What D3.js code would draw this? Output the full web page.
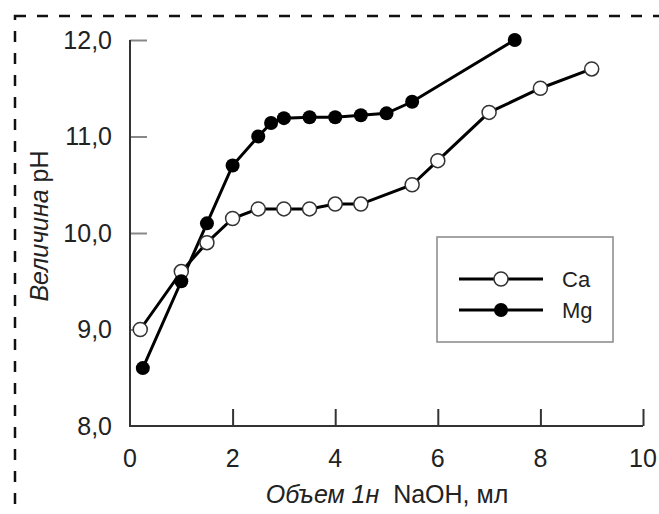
<!DOCTYPE html>
<html><head><meta charset="utf-8">
<script src="https://cdn.jsdelivr.net/npm/d3@7"></script>
<style>body{margin:0;background:#fff;} svg{display:block;font-family:"Liberation Sans",Arial,sans-serif;}</style>
</head><body><svg id="c" width="659" height="514"></svg>
<script>
const caX = [0.2, 1.0, 1.5, 2.0, 2.5, 3.0, 3.5, 4.0, 4.5, 5.5, 6.0, 7.0, 8.0, 9.0];
const caY = [9.0, 9.6, 9.9, 10.15, 10.25, 10.25, 10.25, 10.3, 10.3, 10.5, 10.75, 11.25, 11.5, 11.7];
const mgX = [0.25, 1.0, 1.5, 2.0, 2.5, 2.75, 3.0, 3.5, 4.0, 4.5, 5.0, 5.5, 7.5];
const mgY = [8.6, 9.5, 10.1, 10.7, 11.0, 11.14, 11.19, 11.2, 11.2, 11.22, 11.24, 11.36, 12.0];
const xTicks = [0, 2, 4, 6, 8, 10];
const yTicks = [8, 9, 10, 11, 12];
const yTickLabels = ["8,0", "9,0", "10,0", "11,0", "12,0"];
const seriesNames = ["Ca", "Mg"];

const svg = d3.select("#c");
const x = d3.scaleLinear().domain([0, 10]).range([130, 643]);
const y = d3.scaleLinear().domain([8, 12]).range([426, 40]);

// dashed frame
svg.append("rect").attr("x", 15).attr("y", 16).attr("width", 700).attr("height", 600)
  .attr("fill", "none").attr("stroke", "#111").attr("stroke-width", 2.5)
  .attr("stroke-dasharray", "11,11");

// y ticks (inward, gray)
const yAxis = svg.append("g").attr("transform", "translate(130,0)")
  .call(d3.axisRight(y).tickValues(yTicks.slice(1)).tickSize(17).tickFormat(""));
yAxis.select(".domain").remove();
yAxis.selectAll(".tick line").attr("stroke", "#888").attr("stroke-width", 2);

// x ticks (upward)
const xAxis = svg.append("g").attr("transform", "translate(0,426)")
  .call(d3.axisTop(x).tickValues(xTicks.slice(1)).tickSize(17).tickFormat(""));
xAxis.select(".domain").remove();
xAxis.selectAll(".tick line").attr("stroke", "#333").attr("stroke-width", 2);

// axis lines
svg.append("path").attr("d", `M${x(0)},${y(12)}V${y(8)}H${x(10)}`)
  .attr("fill", "none").attr("stroke", "#333").attr("stroke-width", 2);

// tick labels
svg.append("g").selectAll("text").data(yTicks).join("text")
  .attr("x", 112).attr("y", d => y(d)).attr("dy", "0.35em")
  .attr("text-anchor", "end").attr("font-size", 25).attr("fill", "#222")
  .text((d, i) => yTickLabels[i]);
svg.append("g").selectAll("text").data(xTicks).join("text")
  .attr("x", d => x(d)).attr("y", 467)
  .attr("text-anchor", "middle").attr("font-size", 25).attr("fill", "#222")
  .text(d => d);

// axis titles
const xt = svg.append("text").attr("x", 387).attr("y", 503).attr("text-anchor", "middle")
  .attr("font-size", 25).attr("fill", "#222");
xt.append("tspan").attr("font-style", "italic").text("Объем 1н");
xt.append("tspan").text("\u00a0 NaOH, мл");
const yt = svg.append("text").attr("transform", "translate(48,226) rotate(-90)")
  .attr("text-anchor", "middle").attr("font-size", 25).attr("fill", "#222");
yt.append("tspan").attr("font-style", "italic").text("Величина");
yt.append("tspan").text(" pH");

// series
const line = d3.line().x(d => x(d[0])).y(d => y(d[1]));
const ca = caX.map((v, i) => [v, caY[i]]);
const mg = mgX.map((v, i) => [v, mgY[i]]);
svg.append("path").datum(ca).attr("d", line).attr("fill", "none").attr("stroke", "#000").attr("stroke-width", 3);
svg.append("path").datum(mg).attr("d", line).attr("fill", "none").attr("stroke", "#000").attr("stroke-width", 3);
svg.append("g").selectAll("circle").data(ca).join("circle")
  .attr("cx", d => x(d[0])).attr("cy", d => y(d[1])).attr("r", 7)
  .attr("fill", "#fff").attr("stroke", "#333").attr("stroke-width", 1.5);
svg.append("g").selectAll("circle").data(mg).join("circle")
  .attr("cx", d => x(d[0])).attr("cy", d => y(d[1])).attr("r", 7)
  .attr("fill", "#000");

// legend
const lg = svg.append("g");
lg.append("rect").attr("x", 437).attr("y", 237).attr("width", 176).attr("height", 105)
  .attr("fill", "#fff").attr("stroke", "#888").attr("stroke-width", 1.5);
const ly = [279, 310];
seriesNames.forEach((n, i) => {
  lg.append("line").attr("x1", 459).attr("x2", 543).attr("y1", ly[i]).attr("y2", ly[i])
    .attr("stroke", "#000").attr("stroke-width", 3);
  if (i === 0) lg.append("circle").attr("cx", 501).attr("cy", ly[i]).attr("r", 7)
    .attr("fill", "#fff").attr("stroke", "#333").attr("stroke-width", 1.5);
  else lg.append("circle").attr("cx", 501).attr("cy", ly[i]).attr("r", 7).attr("fill", "#000");
  lg.append("text").attr("x", 562).attr("y", ly[i]).attr("dy", "0.35em")
    .attr("font-size", 22).attr("fill", "#222").text(n);
});
</script></body></html>
